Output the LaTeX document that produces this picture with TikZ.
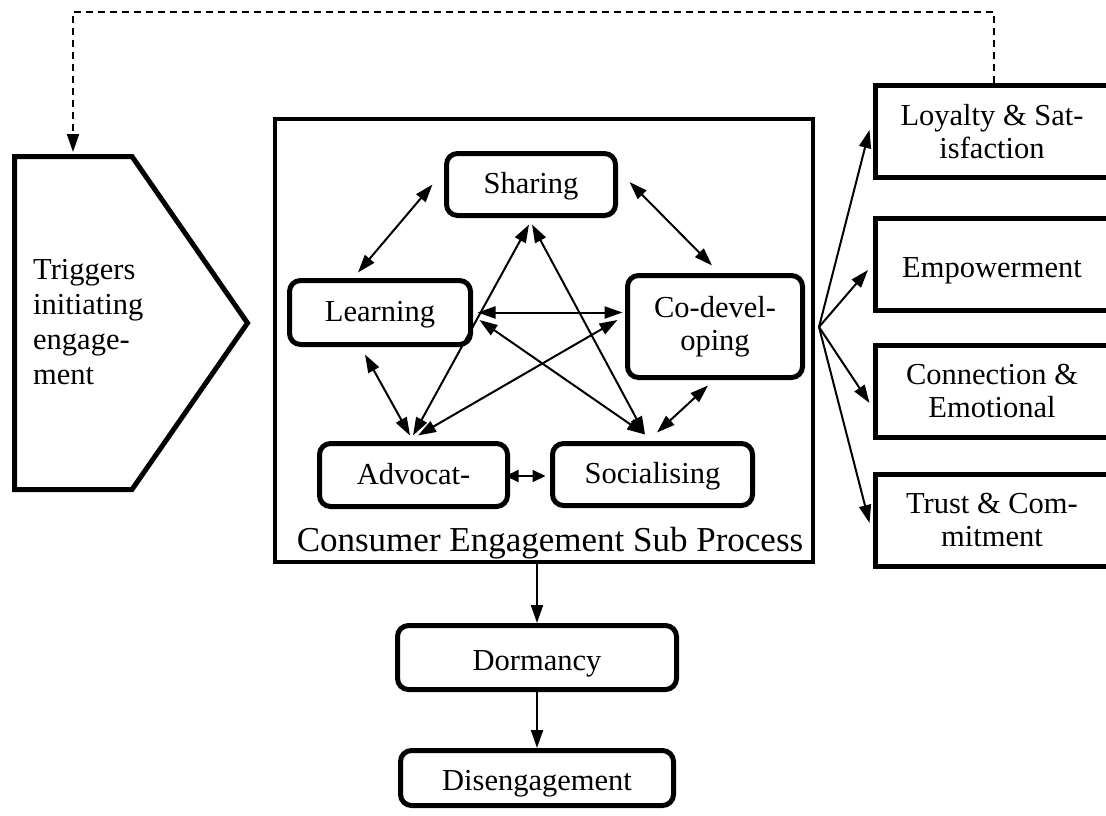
\documentclass[tikz,border=0pt]{standalone}
\usepackage{fontspec}
\setmainfont{Liberation Serif}
\usetikzlibrary{arrows.meta}
\begin{document}
\begin{tikzpicture}[x=1pt,y=-1pt,
  every node/.style={font=\fontsize{30.5}{33}\selectfont},
  rbox/.style={draw, line width=5pt, rounded corners=11pt, inner sep=0pt, align=center},
  sbox/.style={draw, line width=5pt, inner sep=0pt, align=center,
               minimum width=233pt, minimum height=92pt},
  inline/.style={text height=18pt, text depth=0pt},
  outline/.style={text height=25pt, text depth=0pt},
  link/.style={line width=2pt,
               {Triangle[length=18pt,width=12pt]}-{Triangle[length=18pt,width=12pt]}},
  shortlink/.style={line width=2pt,
               {Triangle[length=13pt,width=12pt]}-{Triangle[length=13pt,width=12pt]}},
  flow/.style={line width=2pt, -{Triangle[length=18pt,width=12pt]}},
]
\useasboundingbox (0,0) rectangle (1106,816);

% trigger pentagon
\draw[line width=5pt, line join=miter]
  (14.5,156.5) -- (132,156.5) -- (247.5,323) -- (132,489.5) -- (14.5,489.5) -- cycle;
\node[anchor=west, align=left, inner sep=0pt, font=\fontsize{30.5}{35}\selectfont]
  (trig) at (33,322) {Triggers\\initiating\\engage-\\ment};
\coordinate (trigtop) at (73,152);

% sub process frame
\node[draw, line width=4pt, inner sep=0pt, minimum width=538pt, minimum height=443pt]
  (cep) at (544,340.5) {};
\node[anchor=base, inner sep=0pt, font=\fontsize{35}{38}\selectfont]
  (cap) at (550,551) {Consumer Engagement Sub Process};

% activities
\node[rbox, inline, minimum width=169pt, minimum height=62pt] (share) at (531,184.5) {Sharing};
\node[rbox, inline, minimum width=181pt, minimum height=64pt] (learn) at (380,312.5) {Learning};
\node[rbox, minimum width=175pt, minimum height=102pt] (codev) at (715,326.5) {Co-devel-\\oping};
\node[rbox, inline, minimum width=188pt, minimum height=63pt] (advo) at (413.5,475) {Advocat-};
\node[rbox, inline, minimum width=200pt, minimum height=62pt] (soci) at (652.5,474.5) {Socialising};

% outcomes
\node[sbox] (loy)   at (992,131.5) {Loyalty \& Sat-\\isfaction};
\node[sbox, outline] (emp) at (992,264.5) {Empowerment};
\node[sbox] (conn)  at (992,391.5) {Connection \&\\Emotional};
\node[sbox] (trust) at (992,520.5) {Trust \& Com-\\mitment};

% exit path
\node[rbox, outline, minimum width=279pt, minimum height=64pt] (dorm) at (537,657.5) {Dormancy};
\node[rbox, outline, minimum width=273pt, minimum height=55pt] (dis) at (537,778) {Disengagement};

% links between activities
\draw[link] ([xshift=-11.5pt]share.west) -- ([xshift=-22pt,yshift=5.5pt]learn.north);
\draw[link] ([xshift=11.5pt,yshift=2.5pt]share.east) -- ([xshift=-3pt,yshift=7.5pt]codev.north);
\draw[link] ([xshift=-15pt,yshift=-7.5pt]learn.south) -- ([xshift=-3.5pt,yshift=5.5pt]advo.north);
\draw[shortlink] ([xshift=-4.5pt,yshift=-1pt]advo.east) -- ([xshift=-4.5pt,yshift=-1.5pt]soci.west);
\draw[link] ([xshift=4.5pt,yshift=8.5pt]soci.north) -- ([xshift=-7pt,yshift=-5.5pt]codev.south);
\draw[link] ([xshift=4.5pt]learn.east) -- ([xshift=-2.5pt,yshift=14pt]codev.west);
\draw[link] ([xshift=6.5pt,yshift=-7.5pt]learn.east) -- ([xshift=-7.5pt,yshift=6.5pt]soci.north);
\draw[link] ([xshift=1pt,yshift=-6.5pt]share.south) -- ([xshift=-7.5pt,yshift=6.5pt]soci.north);
\draw[link] ([xshift=-2pt,yshift=-6.5pt]share.south) -- ([xshift=-0.5pt,yshift=5.5pt]advo.north);
\draw[link] ([xshift=-7.5pt,yshift=6.5pt]codev.west) -- ([xshift=4.5pt,yshift=5.5pt]advo.north);

% outcomes fan
\coordinate (fan) at ([xshift=4pt,yshift=13.5pt]cep.east);
\draw[flow] (fan) -- ([xshift=-3.5pt,yshift=1.5pt]loy.west);
\draw[flow] (fan) -- ([xshift=-5pt,yshift=-5.5pt]emp.west);
\draw[flow] (fan) -- ([xshift=-3.5pt,yshift=-11.5pt]conn.west);
\draw[flow] (fan) -- ([xshift=-3.5pt,yshift=-2.5pt]trust.west);

% decline path
\draw[flow] (cep.south -| dorm.north) -- (dorm.north);
\draw[flow] (dorm.south) -- (dis.north);

% feedback loop
\coordinate (loopy) at (0,12);
\coordinate (dashstart) at ([xshift=2pt]loy.north);
\draw[flow, dash pattern=on 7pt off 5pt] (dashstart) -- (dashstart |- loopy) -| (trigtop);
\end{tikzpicture}
\end{document}
